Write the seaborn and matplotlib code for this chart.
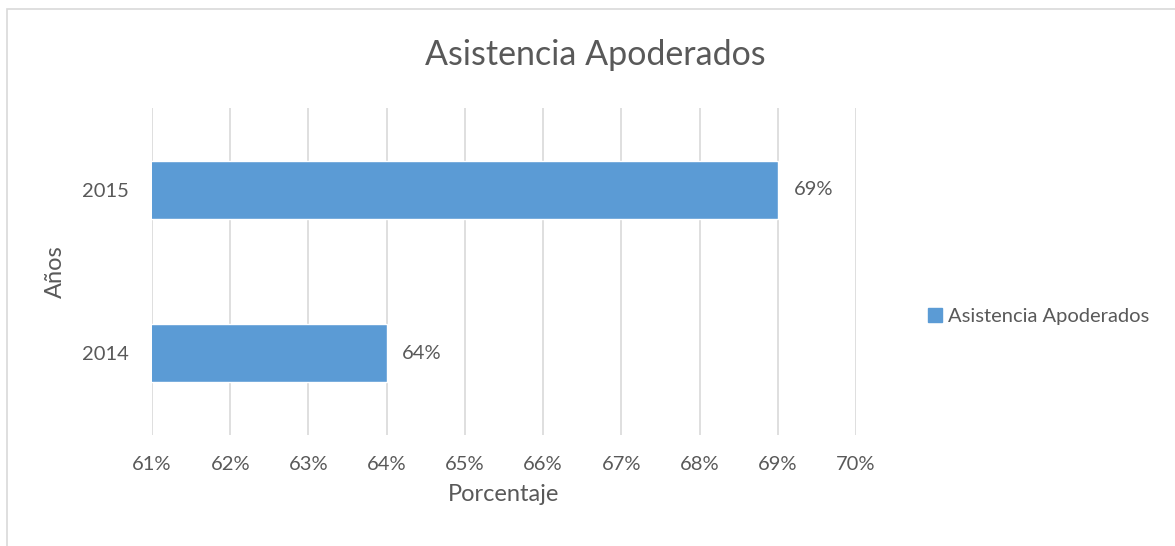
import matplotlib.pyplot as plt
import matplotlib.patches as mpatches
import seaborn as sns
import pandas as pd
from matplotlib.ticker import FuncFormatter

years = ['2015', '2014']
asistencia = [69, 64]
series_name = 'Asistencia Apoderados'

sns.set_style('white')
plt.rcParams['font.family'] = ['Lato', 'DejaVu Sans']
gray = '#595959'
blue = '#5B9BD5'

data = pd.DataFrame({'Años': years, 'valor': asistencia})

fig = plt.figure(figsize=(11.75, 5.46), dpi=100)
ax = fig.add_axes([0.1294, 0.2033, 0.5991, 0.5989])

sns.barplot(data=data, x='valor', y='Años', order=years, color=blue,
            width=0.355, orient='h', ax=ax, saturation=1)

ax.set_xlim(61, 70)
ax.set_xticks(range(61, 71))
ax.xaxis.set_major_formatter(FuncFormatter(lambda v, p: '%d%%' % v))
ax.grid(axis='x', color='#D9D9D9', linewidth=1.2)
ax.set_axisbelow(True)
for s in ax.spines.values():
    s.set_visible(False)
ax.tick_params(axis='both', length=0, labelsize=14.5, colors=gray)
ax.tick_params(axis='x', pad=15)
ax.tick_params(axis='y', pad=17)

for i, v in enumerate(asistencia):
    ax.text(v + 0.2, i, '%d%%' % v, va='center', ha='left', fontsize=14.5, color=gray)

ax.set_xlabel('Porcentaje', fontsize=17, color=gray, labelpad=8)
ax.set_ylabel('Años', fontsize=17, color=gray, labelpad=11)
fig.text(0.507, 0.9, 'Asistencia Apoderados', ha='center', va='center',
         fontsize=24.5, color=gray)

handle = mpatches.Patch(color=blue, label=series_name)
fig.legend(handles=[handle], loc='center left', bbox_to_anchor=(0.774, 0.42),
           frameon=False, fontsize=14.5, labelcolor=gray, handlelength=0.7,
           handleheight=0.7, handletextpad=0.3)

border = mpatches.Rectangle((7 / 1175, -0.1), 1.2, 1.1 - 9 / 546, transform=fig.transFigure,
                            fill=False, edgecolor='#D9D9D9', linewidth=1.2)
fig.patches.append(border)

fig.savefig('out.png', dpi=100)
